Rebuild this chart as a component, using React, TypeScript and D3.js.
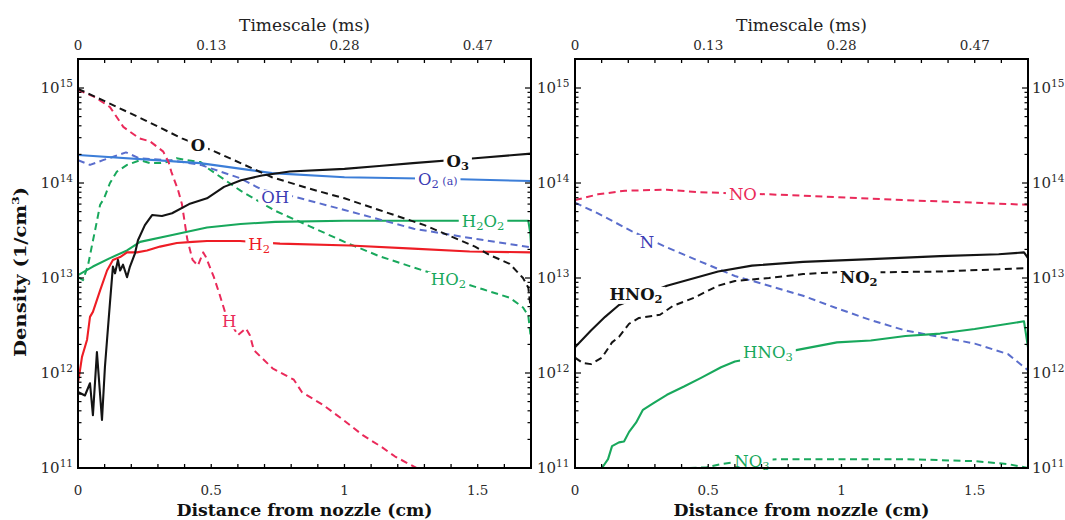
import React, { useEffect, useRef } from "react";
import * as d3 from "d3";

type Pt = [number, number];

// ---------- axis data ----------
const distanceTickValues = [0, 0.5, 1, 1.5];
const distanceTickLabels = ["0", "0.5", "1", "1.5"];
const timescaleTickLabels = ["0", "0.13", "0.28", "0.47"];
const densityExponents = [11, 12, 13, 14, 15];
const distanceDomain: [number, number] = [0, 1.7];
const densityDomain: [number, number] = [1e11, 2.02e15];

// ---------- left panel series (x: cm, y: 1/cm^3) ----------
const seriesO: Pt[] = [[0, 9.8e14], [0.094, 7.4e14], [0.25, 4.6e14], [0.39, 2.95e14], [0.514, 2.14e14], [0.61, 1.62e14], [0.728, 1.15e14], [0.87, 8.7e13], [1.0, 6.9e13], [1.13, 5.2e13], [1.3, 3.6e13], [1.49, 2.14e13], [1.546, 1.74e13], [1.62, 1.41e13], [1.67, 1.0e13], [1.69, 7.9e12], [1.7, 4.5e12]];
const seriesO3: Pt[] = [[0, 6.3e11], [0.026, 5.8e11], [0.045, 7.8e11], [0.056, 3.6e11], [0.071, 1.66e12], [0.09, 3.2e11], [0.101, 1.15e12], [0.109, 2.24e12], [0.12, 5.5e12], [0.131, 1.32e13], [0.139, 1.12e13], [0.15, 1.55e13], [0.158, 1.2e13], [0.169, 1.38e13], [0.184, 1.02e13], [0.195, 1.32e13], [0.214, 1.82e13], [0.225, 2.5e13], [0.251, 3.6e13], [0.278, 4.6e13], [0.315, 4.5e13], [0.353, 4.8e13], [0.417, 6.0e13], [0.484, 6.9e13], [0.548, 9.1e13], [0.612, 1.07e14], [0.69, 1.2e14], [0.795, 1.32e14], [1.0, 1.41e14], [1.13, 1.51e14], [1.257, 1.62e14], [1.49, 1.82e14], [1.7, 2.04e14]];
const seriesH: Pt[] = [[0, 9.55e14], [0.064, 8.0e14], [0.12, 6.3e14], [0.17, 3.9e14], [0.23, 2.95e14], [0.27, 2.75e14], [0.32, 2.14e14], [0.34, 1.66e14], [0.35, 1.32e14], [0.375, 8.5e13], [0.39, 6.0e13], [0.41, 2.57e13], [0.43, 1.55e13], [0.45, 1.35e13], [0.47, 1.86e13], [0.48, 1.66e13], [0.51, 1.02e13], [0.53, 6.9e12], [0.555, 4.1e12], [0.6, 2.5e12], [0.63, 2.95e12], [0.645, 2.5e12], [0.66, 1.74e12], [0.73, 1.12e12], [0.81, 8.5e11], [0.84, 6.3e11], [0.92, 4.6e11], [0.99, 3.3e11], [1.07, 2.2e11], [1.14, 1.66e11], [1.19, 1.32e11], [1.27, 1.0e11]];
const seriesO2a: Pt[] = [[0, 1.97e14], [0.458, 1.62e14], [0.728, 1.27e14], [1.0, 1.15e14], [1.397, 1.1e14], [1.7, 1.05e14]];
const seriesOH: Pt[] = [[0, 1.74e14], [0.045, 1.55e14], [0.094, 1.74e14], [0.18, 2.1e14], [0.23, 1.82e14], [0.345, 1.74e14], [0.46, 1.55e14], [0.61, 1.12e14], [0.69, 8.5e13], [0.81, 7.2e13], [1.0, 5.2e13], [1.26, 3.3e13], [1.45, 2.7e13], [1.7, 2.1e13]];
const seriesHO2: Pt[] = [[0, 1.02e13], [0.019, 9.5e12], [0.038, 1.38e13], [0.053, 2.24e13], [0.068, 3.6e13], [0.083, 5.9e13], [0.098, 6.9e13], [0.12, 1.0e14], [0.146, 1.32e14], [0.184, 1.55e14], [0.233, 1.74e14], [0.27, 1.62e14], [0.31, 1.62e14], [0.334, 1.66e14], [0.37, 1.82e14], [0.41, 1.74e14], [0.46, 1.66e14], [0.484, 1.45e14], [0.61, 8.3e13], [0.74, 5.1e13], [0.87, 3.5e13], [1.0, 2.4e13], [1.13, 1.7e13], [1.26, 1.29e13], [1.52, 7.6e12], [1.62, 6.2e12], [1.67, 4.9e12], [1.69, 4.0e12], [1.7, 2.24e12]];
const seriesH2O2: Pt[] = [[0, 1.07e13], [0.056, 1.32e13], [0.12, 1.62e13], [0.184, 1.95e13], [0.233, 2.4e13], [0.345, 2.8e13], [0.484, 3.4e13], [0.61, 3.7e13], [0.74, 3.9e13], [1.0, 4.0e13], [1.26, 4.0e13], [1.43, 4.0e13], [1.62, 4.0e13], [1.69, 4.0e13], [1.697, 3.0e13], [1.7, 2.24e13]];
const seriesH2: Pt[] = [[0, 8.0e11], [0.0075, 1.07e12], [0.015, 1.48e12], [0.034, 2.24e12], [0.045, 3.9e12], [0.056, 4.4e12], [0.083, 7.4e12], [0.109, 1.2e13], [0.131, 1.55e13], [0.158, 1.66e13], [0.184, 1.86e13], [0.221, 1.86e13], [0.259, 1.95e13], [0.308, 2.14e13], [0.371, 2.34e13], [0.43, 2.4e13], [0.484, 2.45e13], [0.608, 2.45e13], [0.758, 2.3e13], [1.02, 2.2e13], [1.257, 2.04e13], [1.47, 1.9e13], [1.7, 1.86e13]];

// ---------- right panel series ----------
const seriesNO: Pt[] = [[0, 6.6e13], [0.086, 7.6e13], [0.188, 8.3e13], [0.345, 8.5e13], [0.469, 8.0e13], [0.728, 7.6e13], [0.983, 7.1e13], [1.24, 6.6e13], [1.5, 6.2e13], [1.7, 5.9e13]];
const seriesN: Pt[] = [[0, 6.2e13], [0.086, 4.8e13], [0.214, 3.1e13], [0.345, 2.1e13], [0.473, 1.48e13], [0.6, 1.05e13], [0.728, 8.3e12], [0.856, 6.5e12], [0.983, 4.8e12], [1.11, 3.6e12], [1.24, 2.8e12], [1.37, 2.4e12], [1.5, 2.04e12], [1.625, 1.58e12], [1.673, 1.23e12], [1.7, 1.07e12]];
const seriesHNO2: Pt[] = [[0, 1.86e12], [0.06, 2.8e12], [0.113, 3.9e12], [0.165, 5.2e12], [0.345, 8.3e12], [0.409, 9.3e12], [0.537, 1.17e13], [0.664, 1.35e13], [0.856, 1.48e13], [1.11, 1.58e13], [1.37, 1.7e13], [1.59, 1.78e13], [1.685, 1.86e13], [1.7, 1.62e13]];
const seriesNO2: Pt[] = [[0, 1.45e12], [0.03, 1.27e12], [0.06, 1.24e12], [0.101, 1.45e12], [0.139, 2.1e12], [0.165, 2.4e12], [0.203, 3.3e12], [0.24, 3.8e12], [0.319, 4.1e12], [0.368, 5.1e12], [0.447, 6.2e12], [0.537, 8.3e12], [0.6, 9.3e12], [0.728, 1.0e13], [0.856, 1.1e13], [0.983, 1.15e13], [1.16, 1.15e13], [1.37, 1.17e13], [1.7, 1.27e13]];
const seriesHNO3: Pt[] = [[0.101, 1.0e11], [0.124, 1.24e11], [0.139, 1.7e11], [0.165, 1.86e11], [0.184, 1.9e11], [0.203, 2.4e11], [0.229, 3.0e11], [0.255, 4.1e11], [0.293, 4.8e11], [0.345, 5.9e11], [0.409, 7.2e11], [0.473, 8.9e11], [0.548, 1.15e12], [0.6, 1.32e12], [0.83, 1.74e12], [0.983, 2.1e12], [1.11, 2.2e12], [1.24, 2.45e12], [1.37, 2.6e12], [1.5, 2.9e12], [1.685, 3.5e12], [1.7, 1.86e12]];
const seriesNO3: Pt[] = [[0.43, 1.0e11], [0.495, 1.02e11], [0.548, 1.1e11], [0.6, 1.15e11], [0.765, 1.24e11], [0.983, 1.24e11], [1.24, 1.24e11], [1.5, 1.18e11], [1.625, 1.1e11], [1.7, 1.0e11]];

// ---------- styles ----------
const BLACK = "#141414";
const RED = "#ee1d25";
const CRIMSON = "#ea2a5a";
const GREEN = "#18a85c";
const BLUE = "#3c7ed8";
const SLATE = "#5a6dcc";
const PURPLE_TEXT = "#3c3cb4";

type Series = { data: Pt[]; color: string; dashed: boolean };
type Label = { parts: [string, number][]; x: number; y: number; color: string; bold: boolean };

const leftSeries: Series[] = [
  { data: seriesH2O2, color: GREEN, dashed: false },
  { data: seriesHO2, color: GREEN, dashed: true },
  { data: seriesOH, color: SLATE, dashed: true },
  { data: seriesO2a, color: BLUE, dashed: false },
  { data: seriesH2, color: RED, dashed: false },
  { data: seriesH, color: CRIMSON, dashed: true },
  { data: seriesO, color: BLACK, dashed: true },
  { data: seriesO3, color: BLACK, dashed: false },
];
const rightSeries: Series[] = [
  { data: seriesNO, color: CRIMSON, dashed: true },
  { data: seriesN, color: SLATE, dashed: true },
  { data: seriesHNO3, color: GREEN, dashed: false },
  { data: seriesNO3, color: GREEN, dashed: true },
  { data: seriesNO2, color: BLACK, dashed: true },
  { data: seriesHNO2, color: BLACK, dashed: false },
];

// parts: [text, 0=normal 1=subscript 2=small]
const leftLabels: Label[] = [
  { parts: [["O", 0]], x: 0.45, y: 2.5e14, color: BLACK, bold: true },
  { parts: [["O", 0], ["3", 1]], x: 1.425, y: 1.72e14, color: BLACK, bold: true },
  { parts: [["O", 0], ["2", 1], [" (a)", 2]], x: 1.35, y: 1.1e14, color: PURPLE_TEXT, bold: false },
  { parts: [["OH", 0]], x: 0.74, y: 7.1e13, color: PURPLE_TEXT, bold: false },
  { parts: [["H", 0], ["2", 1], ["O", 0], ["2", 1]], x: 1.52, y: 4.0e13, color: GREEN, bold: false },
  { parts: [["H", 0], ["2", 1]], x: 0.68, y: 2.3e13, color: RED, bold: false },
  { parts: [["HO", 0], ["2", 1]], x: 1.39, y: 9.8e12, color: GREEN, bold: false },
  { parts: [["H", 0]], x: 0.567, y: 3.5e12, color: CRIMSON, bold: false },
];
const rightLabels: Label[] = [
  { parts: [["NO", 0]], x: 0.63, y: 7.6e13, color: CRIMSON, bold: false },
  { parts: [["N", 0]], x: 0.27, y: 2.4e13, color: PURPLE_TEXT, bold: false },
  { parts: [["HNO", 0], ["2", 1]], x: 0.229, y: 6.8e12, color: BLACK, bold: true },
  { parts: [["NO", 0], ["2", 1]], x: 1.065, y: 1.02e13, color: BLACK, bold: true },
  { parts: [["HNO", 0], ["3", 1]], x: 0.724, y: 1.66e12, color: GREEN, bold: false },
  { parts: [["NO", 0], ["3", 1]], x: 0.664, y: 1.18e11, color: GREEN, bold: false },
];

const FONT = "DejaVu Serif, Liberation Serif, serif";

export default function App() {
  const ref = useRef<SVGSVGElement>(null);

  useEffect(() => {
    const svg = d3.select(ref.current!);
    svg.selectAll("*").remove();
    const top = 59;
    const bottom = 468;
    const panels = [
      { left: 78, right: 531, series: leftSeries, labels: leftLabels },
      { left: 575, right: 1028, series: rightSeries, labels: rightLabels },
    ];
    const y = d3.scaleLog().domain(densityDomain).range([bottom, top]);
    const defs = svg.append("defs");

    const tickLabel10 = (g: any, xPos: number, exp: number, anchor: string) => {
      const t = g.append("text")
        .attr("x", xPos).attr("y", y(Math.pow(10, exp)) + 5)
        .attr("text-anchor", anchor)
        .attr("font-family", FONT).attr("font-size", 15).attr("fill", "#2a2a2a");
      t.append("tspan").text("10");
      t.append("tspan").attr("font-size", 10.5).attr("dy", -6).text(String(exp));
    };

    panels.forEach((p, i) => {
      const x = d3.scaleLinear().domain(distanceDomain).range([p.left, p.right]);
      const g = svg.append("g");
      const clipId = "clip" + i;
      defs.append("clipPath").attr("id", clipId).append("rect")
        .attr("x", p.left).attr("y", top).attr("width", p.right - p.left).attr("height", bottom - top);

      const line = d3.line<Pt>().x((d) => x(d[0])).y((d) => y(d[1]));
      const lg = g.append("g").attr("clip-path", `url(#${clipId})`);
      p.series.forEach((s) => {
        lg.append("path").attr("d", line(s.data)!)
          .attr("fill", "none").attr("stroke", s.color)
          .attr("stroke-width", s.dashed ? 2 : 2.1)
          .attr("stroke-dasharray", s.dashed ? "7,4.5" : null)
          .attr("stroke-linejoin", "round");
      });

      // labels
      p.labels.forEach((l) => {
        const t = g.append("text")
          .attr("x", x(l.x)).attr("y", y(l.y) + 6)
          .attr("text-anchor", "middle")
          .attr("font-family", FONT).attr("font-size", 16.5)
          .attr("font-weight", l.bold ? "bold" : "normal")
          .attr("fill", l.color);
        let shifted = false;
        l.parts.forEach(([txt, kind]) => {
          const ts = t.append("tspan").text(txt);
          if (kind === 1) {
            ts.attr("font-size", 11.5).attr("dy", shifted ? 0 : 3);
            shifted = true;
          } else if (kind === 2) {
            ts.attr("font-size", 11).attr("dy", shifted ? -3 : 0);
            shifted = false;
          } else {
            ts.attr("dy", shifted ? -3 : 0);
            shifted = false;
          }
        });
        const bb = (t.node() as SVGTextElement).getBBox();
        g.insert("rect", () => t.node() as any)
          .attr("x", bb.x - 3).attr("y", bb.y + 2)
          .attr("width", bb.width + 6).attr("height", bb.height - 4)
          .attr("fill", "white");
      });

      // frame
      g.append("rect").attr("x", p.left).attr("y", top)
        .attr("width", p.right - p.left).attr("height", bottom - top)
        .attr("fill", "none").attr("stroke", "#000").attr("stroke-width", 2);

      // x ticks (bottom & top, inward)
      const xt = d3.range(0, 17).map((k) => k / 10);
      xt.forEach((v) => {
        const xp = x(v);
        g.append("line").attr("x1", xp).attr("x2", xp).attr("y1", bottom).attr("y2", bottom - 4)
          .attr("stroke", "#000").attr("stroke-width", 1.3);
        g.append("line").attr("x1", xp).attr("x2", xp).attr("y1", top).attr("y2", top + 4)
          .attr("stroke", "#000").attr("stroke-width", 1.3);
      });

      // y ticks (both sides, inward)
      densityExponents.forEach((e) => {
        for (let k = 1; k <= 9; k++) {
          const v = k * Math.pow(10, e);
          if (v > densityDomain[1] || v < densityDomain[0]) continue;
          const len = k === 1 ? 6 : 3.5;
          const yp = y(v);
          g.append("line").attr("x1", p.left).attr("x2", p.left + len).attr("y1", yp).attr("y2", yp)
            .attr("stroke", "#000").attr("stroke-width", 1.2);
          g.append("line").attr("x1", p.right).attr("x2", p.right - len).attr("y1", yp).attr("y2", yp)
            .attr("stroke", "#000").attr("stroke-width", 1.2);
        }
      });

      // tick labels
      distanceTickValues.forEach((v, k) => {
        g.append("text").attr("x", x(v)).attr("y", 495).attr("text-anchor", "middle")
          .attr("font-family", FONT).attr("font-size", 13.5).attr("fill", "#2a2a2a")
          .text(distanceTickLabels[k]);
        g.append("text").attr("x", x(v)).attr("y", 50).attr("text-anchor", "middle")
          .attr("font-family", FONT).attr("font-size", 13.5).attr("fill", "#2a2a2a")
          .text(timescaleTickLabels[k]);
      });

      // titles
      const cx = (p.left + p.right) / 2;
      g.append("text").attr("x", cx).attr("y", 31).attr("text-anchor", "middle")
        .attr("font-family", FONT).attr("font-size", 17).attr("fill", "#222")
        .attr("textLength", 131).attr("lengthAdjust", "spacingAndGlyphs")
        .text("Timescale (ms)");
      g.append("text").attr("x", cx).attr("y", 516).attr("text-anchor", "middle")
        .attr("font-family", FONT).attr("font-size", 17).attr("font-weight", "bold").attr("fill", "#111")
        .attr("textLength", 256).attr("lengthAdjust", "spacingAndGlyphs")
        .text("Distance from nozzle (cm)");
    });

    // y tick labels
    const lab = svg.append("g");
    densityExponents.forEach((e) => {
      tickLabel10(lab, 73, e, "end");
      tickLabel10(lab, 537, e, "start");
      tickLabel10(lab, 1032, e, "start");
    });

    // y axis title
    const yt = svg.append("text")
      .attr("transform", "translate(26,272) rotate(-90)")
      .attr("text-anchor", "middle")
      .attr("font-family", FONT).attr("font-size", 16).attr("font-weight", "bold").attr("fill", "#111")
      .attr("textLength", 170).attr("lengthAdjust", "spacingAndGlyphs");
    yt.append("tspan").text("Density (1/cm");
    yt.append("tspan").attr("font-size", 10).attr("dy", -7).text("3");
    yt.append("tspan").attr("dy", 7).text(")");
  }, []);

  return (
    <div style={{ position: "absolute", left: 0, top: 0 }}>
      <svg ref={ref} width={1065} height={520} style={{ display: "block", background: "white" }} />
    </div>
  );
}
